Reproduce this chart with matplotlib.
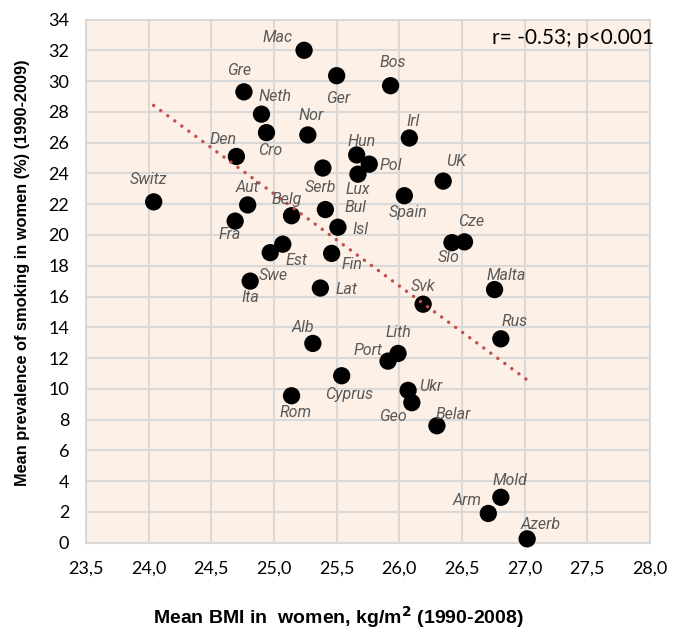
import numpy as np
import matplotlib
matplotlib.use("Agg")
import matplotlib.pyplot as plt
from matplotlib import font_manager

# --- data ---
countries = ["Mac", "Ger", "Gre", "Neth", "Cro", "Nor", "Den", "Serb", "Hun", "Lux",
             "Pol", "Switz", "Aut", "Belg", "Bul", "Fra", "Isl", "Est", "Swe", "Ita",
             "Fin", "Lat", "Alb", "Cyprus", "Rom", "Bos", "Irl", "UK", "Spain", "Slo",
             "Cze", "Malta", "Svk", "Rus", "Lith", "Port", "Ukr", "Geo", "Belar", "Mold",
             "Arm", "Azerb"]
bmi = [25.24, 25.50, 24.76, 24.90, 24.94, 25.27, 24.70, 25.39, 25.66, 25.67,
       25.76, 24.04, 24.79, 25.14, 25.41, 24.69, 25.51, 25.07, 24.97, 24.81,
       25.46, 25.37, 25.31, 25.54, 25.14, 25.93, 26.08, 26.35, 26.04, 26.42,
       26.52, 26.76, 26.19, 26.81, 25.99, 25.91, 26.07, 26.10, 26.30, 26.81,
       26.71, 27.02]
smoking = [32.0, 30.35, 29.3, 27.85, 26.65, 26.5, 25.1, 24.35, 25.2, 23.95,
           24.6, 22.15, 21.95, 21.25, 21.65, 20.9, 20.5, 19.4, 18.85, 17.0,
           18.8, 16.55, 12.95, 10.85, 9.55, 29.7, 26.3, 23.5, 22.55, 19.5,
           19.55, 16.45, 15.5, 13.25, 12.3, 11.8, 9.9, 9.1, 7.6, 2.95,
           1.9, 0.25]
# label anchor (centre of each country name) in data units
label_x = [25.03, 25.51, 24.72, 25.01, 24.97, 25.30, 24.59, 25.37, 25.70, 25.67,
           25.93, 24.00, 24.79, 25.10, 25.65, 24.65, 25.69, 25.18, 24.99, 24.81,
           25.62, 25.58, 25.23, 25.60, 25.17, 25.95, 26.11, 26.45, 26.07, 26.39,
           26.57, 26.85, 26.19, 26.92, 25.99, 25.75, 26.25, 25.95, 26.43, 26.88,
           26.54, 27.13]
label_y = [32.81, 28.88, 30.67, 28.98, 25.52, 27.79, 26.23, 23.07, 26.10, 22.98,
           24.54, 23.63, 23.07, 22.31, 21.77, 20.04, 20.38, 18.37, 17.39, 15.92,
           18.09, 16.48, 13.97, 9.60, 8.47, 31.19, 27.40, 24.80, 21.47, 18.52,
           20.86, 17.39, 16.63, 14.36, 13.65, 12.46, 10.14, 8.19, 8.36, 4.07,
           2.73, 1.21]
x_ticks = [23.5, 24.0, 24.5, 25.0, 25.5, 26.0, 26.5, 27.0, 27.5, 28.0]
y_ticks = list(range(0, 35, 2))
stat_text = "r= -0.53; p<0.001"


def pick_font(names):
    for n in names:
        try:
            font_manager.findfont(font_manager.FontProperties(family=n),
                                  fallback_to_default=False)
            return n
        except Exception:
            continue
    return "DejaVu Sans"


narrow = pick_font(["Liberation Sans Narrow", "Roboto", "Liberation Sans"])
boldfont = pick_font(["Liberation Sans Narrow", "Liberation Sans"])
tickfont = pick_font(["Lato", "Open Sans"])

fig = plt.figure(figsize=(6.87, 6.34), dpi=100)
ax = fig.add_axes([0.1252, 0.1440, 0.8209, 0.8252])
ax.set_facecolor("#FDF0E6")

ax.set_xlim(23.5, 28.0)
ax.set_ylim(0, 34)
ax.set_xticks(x_ticks)
ax.set_yticks(y_ticks)
ax.set_xticklabels([f"{t:.1f}".replace(".", ",") for t in x_ticks],
                   fontfamily=tickfont, fontsize=13)
ax.set_yticklabels([str(t) for t in y_ticks], fontfamily=tickfont, fontsize=13)
ax.tick_params(length=0, pad=12, axis="y")
ax.tick_params(length=0, pad=13, axis="x")
ax.grid(True, color="#D9D9D9", lw=1.5)
ax.set_axisbelow(True)
for sp in ax.spines.values():
    sp.set_color("#D9D9D9")
    sp.set_linewidth(1.5)

ax.scatter(bmi, smoking, s=155, color="black", zorder=3, clip_on=False,
           edgecolors="none")

# linear trend line
k, b = np.polyfit(bmi, smoking, 1)
xx = np.array([min(bmi), max(bmi)])
ax.plot(xx, k * xx + b, color="#C0504D", lw=2.5, linestyle=(0, (0.01, 2.5)),
        dash_capstyle="round", zorder=4)

for name, lx, ly in zip(countries, label_x, label_y):
    ax.text(lx, ly, name, ha="center", va="center", fontsize=11.5,
            style="italic", color="#595959", fontfamily=narrow, zorder=5)

ax.text(1.007, 0.9646, stat_text, transform=ax.transAxes, ha="right", va="center",
        fontsize=15, fontfamily=tickfont, color="black")

fig.text(0.493, 1 - 617 / 634, "Mean BMI in  women, kg/m$^{\\mathbf{2}}$ (1990-2008)",
         ha="center", va="center", fontsize=14, fontweight="bold",
         fontfamily=boldfont)
fig.text(23 / 687, 1 - 273 / 634, "Mean prevalence of smoking in women (%) (1990-2009)",
         ha="center", va="center", rotation=90, fontsize=11.8, fontweight="bold",
         fontfamily=boldfont)

fig.savefig("out.png", dpi=100)
